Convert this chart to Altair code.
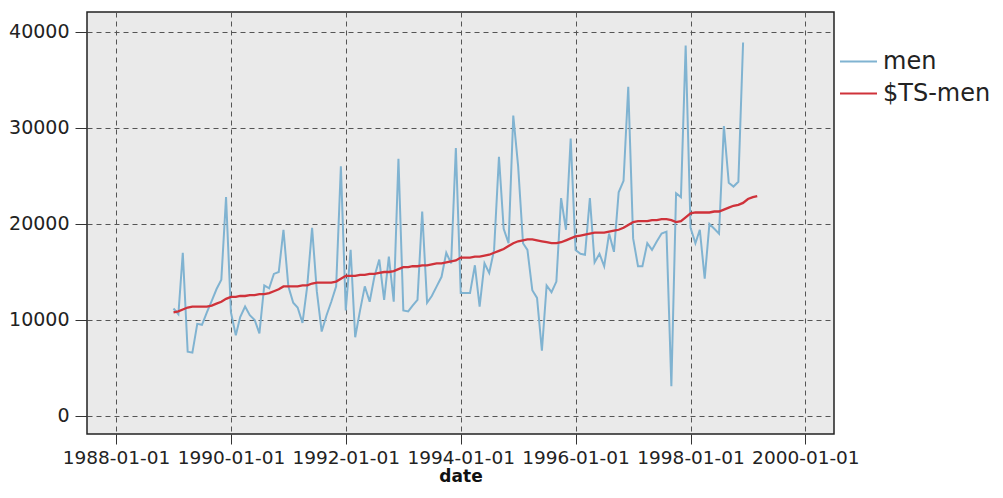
import altair as alt
import pandas as pd

# monthly "men" series, Jan 1989 .. Dec 1998
men = [
    11200, 10600, 17000, 6700, 6600, 9600, 9500, 10800, 12000, 13200, 14200, 22800,   # 1989
    10800, 8400, 10300, 11400, 10500, 10000, 8600, 13600, 13300, 14800, 15000, 19400,  # 1990
    13500, 11800, 11300, 9700, 13500, 19600, 13000, 8800, 10500, 11900, 13500, 26000,  # 1991
    11000, 17300, 8200, 11000, 13500, 11900, 14500, 16300, 12100, 16600, 11900, 26800, # 1992
    11000, 10900, 11500, 12100, 21300, 11800, 12500, 13500, 14500, 17000, 15900, 27900, # 1993
    12800, 12800, 12800, 15700, 11400, 15900, 14900, 17300, 27000, 19500, 18000, 31300, # 1994
    26000, 18000, 17300, 13100, 12300, 6800, 13600, 12900, 14000, 22700, 19400, 28900, # 1995
    17300, 16900, 16800, 22700, 16000, 16900, 15600, 19000, 17100, 23300, 24500, 34300, # 1996
    18500, 15600, 15600, 18000, 17300, 18200, 19000, 19200, 3100, 23200, 22800, 38600,  # 1997
    19600, 18000, 19400, 14300, 20000, 19500, 19000, 30200, 24300, 23900, 24400, 38900, # 1998
]

# model series "$TS-men", Jan 1989 .. Mar 1999
ts_men = [
    10800, 10900, 11100, 11300, 11400, 11400, 11400, 11400, 11500, 11700, 11900, 12200,
    12400, 12400, 12500, 12500, 12600, 12600, 12700, 12700, 12800, 13000, 13200, 13500,
    13500, 13500, 13500, 13600, 13600, 13800, 13900, 13900, 13900, 13900, 14000, 14300,
    14600, 14600, 14600, 14700, 14700, 14800, 14800, 14900, 15000, 15000, 15100, 15300,
    15500, 15500, 15600, 15600, 15700, 15700, 15800, 15900, 15900, 16000, 16100, 16200,
    16500, 16500, 16500, 16600, 16600, 16700, 16800, 17000, 17200, 17400, 17700, 18000,
    18200, 18300, 18400, 18400, 18300, 18200, 18100, 18000, 18000, 18100, 18300, 18500,
    18700, 18800, 18900, 19000, 19100, 19100, 19100, 19200, 19300, 19400, 19600, 19900,
    20200, 20300, 20300, 20300, 20400, 20400, 20500, 20500, 20400, 20200, 20300, 20700,
    21100, 21200, 21200, 21200, 21200, 21300, 21300, 21500, 21700, 21900, 22000, 22200,
    22600, 22800, 22900,
]

series_names = ["men", "$TS-men"]
series_colors = ["#80B3D1", "#CF323A"]
tick_years = [1988, 1990, 1992, 1994, 1996, 1998, 2000]
y_ticks = [0, 10000, 20000, 30000, 40000]

men_df = pd.DataFrame({
    "date": pd.date_range("1989-01-01", periods=len(men), freq="MS"),
    "value": men,
    "series": series_names[0],
})
ts_df = pd.DataFrame({
    "date": pd.date_range("1989-01-01", periods=len(ts_men), freq="MS"),
    "value": ts_men,
    "series": series_names[1],
})

FONT = "DejaVu Sans"

x_enc = alt.X(
    "date:T",
    scale=alt.Scale(domain=[alt.DateTime(year=1987, month=7, date=1),
                            alt.DateTime(year=2000, month=7, date=1)]),
    axis=alt.Axis(
        values=[alt.DateTime(year=y, month=1, date=1) for y in tick_years],
        format="%Y-%m-%d", title="date",
        labelFontSize=18.5, labelFont=FONT, labelColor="#222",
        titleFontSize=17, titleFont=FONT, titleFontWeight="bold", titleColor="#111",
        titlePadding=2, labelPadding=4,
        tickSize=10, tickColor="#333", domain=False,
        grid=True, gridDash=[5, 4], gridColor="#555", gridWidth=1,
        labelFlush=False, labelOverlap=False,
    ),
)
y_enc = alt.Y(
    "value:Q",
    scale=alt.Scale(domain=[-1875, 42083], nice=False, zero=False),
    axis=alt.Axis(
        values=y_ticks, title=None, format="d",
        labelFontSize=19, labelFont=FONT, labelColor="#222",
        tickSize=12, tickColor="#333", domain=False, labelPadding=6,
        grid=True, gridDash=[5, 4], gridColor="#555", gridWidth=1,
    ),
)
color_enc = alt.Color(
    "series:N",
    scale=alt.Scale(domain=series_names, range=series_colors),
    legend=alt.Legend(
        title=None, orient="none", legendX=752, legendY=30,
        symbolType="stroke", symbolSize=1369, symbolStrokeWidth=2,
        labelFontSize=24, labelFont=FONT, labelColor="#222",
        labelOffset=5, rowPadding=0,
    ),
)

men_line = alt.Chart(men_df).mark_line(strokeWidth=2).encode(x=x_enc, y=y_enc, color=color_enc)
ts_line = alt.Chart(ts_df).mark_line(strokeWidth=2.3).encode(x=x_enc, y=y_enc, color=color_enc)

chart = alt.layer(men_line, ts_line).properties(
    width=747, height=422,
    autosize=alt.AutoSizeParams(type="none"),
    padding={"left": 79, "top": 4, "right": 160, "bottom": 56},
    background="white",
).configure_view(
    fill="#EAEAEA", stroke="#222", strokeWidth=1.5,
)

chart.save("out.html", embed_options={"renderer": "svg", "actions": False})
